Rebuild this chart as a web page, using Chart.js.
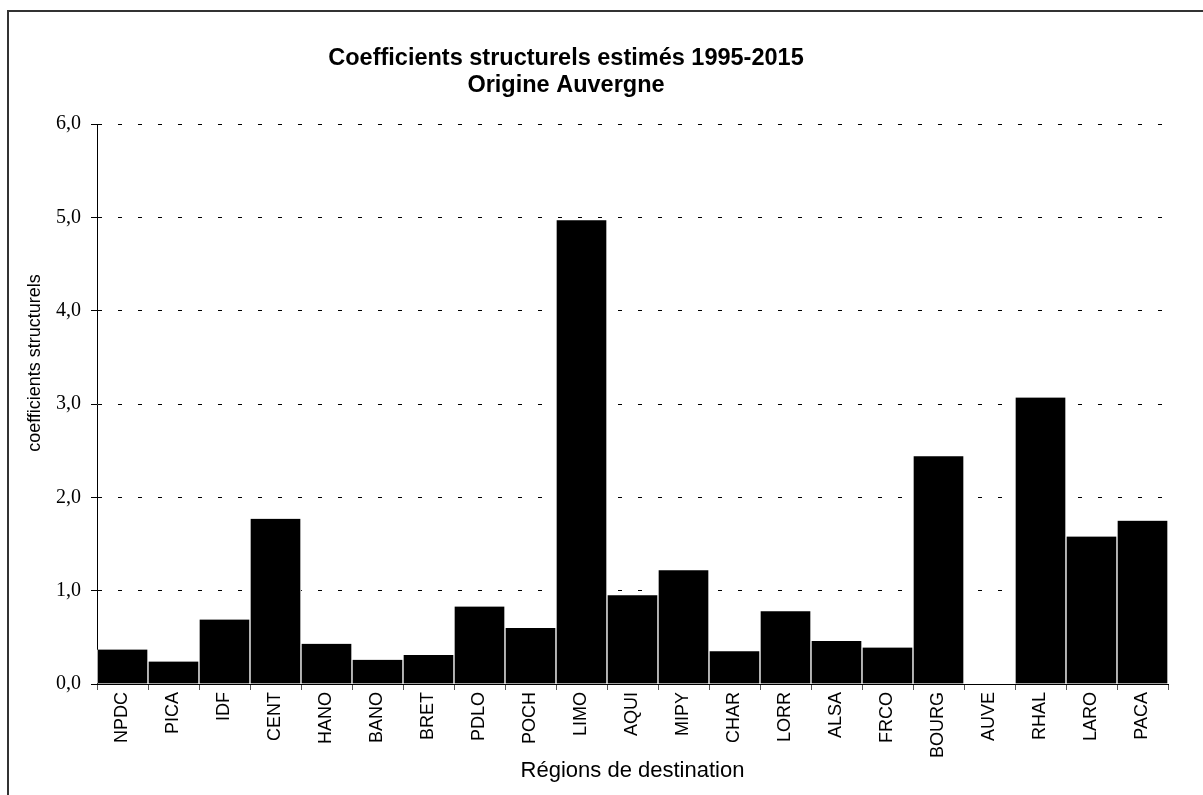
<!DOCTYPE html>
<html>
<head>
<meta charset="utf-8">
<script src="https://cdn.jsdelivr.net/npm/chart.js@4/dist/chart.umd.min.js"></script>
<style>
  html, body { margin: 0; padding: 0; background: #fff; overflow: hidden; }
  #wrap { position: relative; width: 1203px; height: 795px; }
  #frame {
    position: absolute; left: 7px; top: 10px; width: 1300px; height: 900px;
    border-left: 2px solid #333; border-top: 2px solid #333; pointer-events: none;
  }
</style>
</head>
<body>
<div id="wrap">
  <canvas id="chart" width="1203" height="795"></canvas>
  <div id="frame"></div>
</div>
<script>
// Data
const regions = ['NPDC', 'PICA', 'IDF', 'CENT', 'HANO', 'BANO', 'BRET', 'PDLO', 'POCH', 'LIMO', 'AQUI',
  'MIPY', 'CHAR', 'LORR', 'ALSA', 'FRCO', 'BOURG', 'AUVE', 'RHAL', 'LARO', 'PACA'];
const coefficients = [0.37, 0.24, 0.69, 1.77, 0.43, 0.26, 0.31, 0.83, 0.60, 4.97, 0.95,
  1.22, 0.35, 0.78, 0.46, 0.39, 2.44, 0, 3.07, 1.58, 1.75];
const yTicks = [0, 1, 2, 3, 4, 5, 6];

const sans = "'Liberation Sans', Arial, sans-serif";
const serif = "'Liberation Serif', 'Times New Roman', serif";

// Title sits a bit left of the canvas centre, y title sits above the plot centre
const offsets = {
  id: 'offsets',
  afterLayout(chart) {
    chart.titleBlock.left -= 18;
    chart.titleBlock.right -= 18;
  },
  afterDraw(chart) {
    const ctx = chart.ctx;
    ctx.save();
    ctx.translate(35, 363);
    ctx.rotate(-Math.PI / 2);
    ctx.font = '18px ' + sans;
    ctx.fillStyle = '#000';
    ctx.textAlign = 'center';
    ctx.textBaseline = 'middle';
    ctx.fillText('coefficients structurels', 0, 0);
    ctx.restore();
  }
};

const chart = new Chart(document.getElementById('chart'), {
  type: 'bar',
  data: {
    labels: regions,
    datasets: [{
      data: coefficients,
      backgroundColor: '#000',
      borderColor: '#fff',
      borderWidth: { left: 1, right: 1, top: 0, bottom: 0 },
      barPercentage: 1,
      categoryPercentage: 1
    }]
  },
  options: {
    responsive: false,
    animation: false,
    layout: { padding: { left: 0, right: 35, top: 0, bottom: 0 } },
    plugins: {
      legend: { display: false },
      tooltip: { enabled: false },
      title: {
        display: true,
        text: ['Coefficients structurels estimés 1995-2015', 'Origine Auvergne'],
        color: '#000',
        font: { family: sans, size: 23.5, weight: 'bold', lineHeight: 1.15 },
        padding: { top: 45, bottom: 25 }
      }
    },
    scales: {
      x: {
        afterFit: (scale) => { scale.height = 111; },
        border: { color: '#000', width: 1 },
        grid: {
          display: true,
          drawOnChartArea: false,
          tickLength: 6,
          tickColor: '#555',
          offset: true
        },
        ticks: {
          color: '#000',
          minRotation: 90,
          maxRotation: 90,
          autoSkip: false,
          padding: 2,
          font: { family: sans, size: 18 }
        },
        title: {
          display: true,
          text: 'Régions de destination',
          color: '#000',
          font: { family: sans, size: 22 },
          padding: { top: 0, bottom: 11 }
        }
      },
      y: {
        min: 0,
        max: 6,
        afterFit: (scale) => { scale.width = 97; },
        afterBuildTicks: (scale) => { scale.ticks = yTicks.map(v => ({ value: v })); },
        border: { color: '#000', width: 1, dash: [4, 16] },
        grid: {
          color: '#000',
          lineWidth: 1,
          tickBorderDash: [],
          tickLength: 6,
          tickColor: '#000'
        },
        ticks: {
          color: '#000',
          padding: 10,
          font: { family: serif, size: 20 },
          callback: (v) => v.toFixed(1).replace('.', ',')
        }
      }
    }
  },
  plugins: [offsets]
});
</script>
</body>
</html>
